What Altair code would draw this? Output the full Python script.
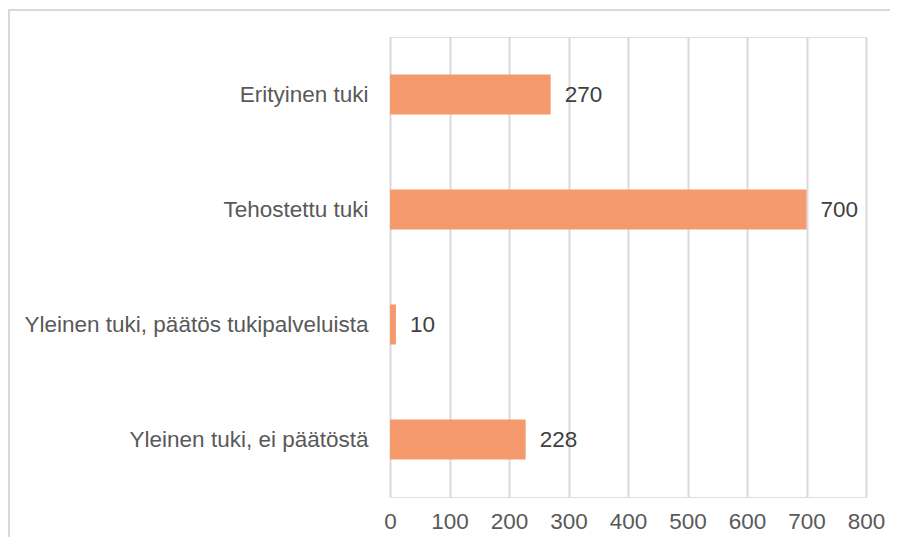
import altair as alt
import pandas as pd

categories = ["Erityinen tuki", "Tehostettu tuki", "Yleinen tuki, päätös tukipalveluista", "Yleinen tuki, ei päätöstä"]
values = [270, 700, 10, 228]
x_ticks = [0, 100, 200, 300, 400, 500, 600, 700, 800]

df = pd.DataFrame({"cat": categories, "val": values})

FONT = "Liberation Sans"
FS = 22.5

border = alt.Chart(df).mark_rect(
    fill=None, fillOpacity=0, stroke="#d9d9d9", strokeWidth=2
).encode(
    x=alt.value(-381), x2=alt.value(600), y=alt.value(-27), y2=alt.value(600)
)

base = alt.Chart(df).encode(
    y=alt.Y("cat:N", sort=categories, title=None,
            scale=alt.Scale(paddingInner=0.652, paddingOuter=0.326),
            axis=alt.Axis(labelFont=FONT, labelFontSize=FS, labelColor="#595959",
                          labelPadding=22, ticks=False, domain=False, grid=False,
                          labelLimit=500)),
    x=alt.X("val:Q", title=None,
            scale=alt.Scale(domain=[0, 800], nice=False),
            axis=alt.Axis(values=x_ticks, labelFont=FONT, labelFontSize=FS,
                          labelColor="#595959", labelPadding=13, ticks=False,
                          labelFlush=False,
                          domain=False, grid=True, gridColor="#d9d9d9",
                          gridWidth=2)),
)

bars = base.mark_bar(color="#F59A6C")
labels = base.mark_text(align="left", baseline="middle", dx=14, font=FONT,
                        fontSize=FS, color="#404040").encode(text="val:Q")

chart = alt.layer(border, bars, labels).properties(
    width=476, height=460,
    autosize=alt.AutoSizeParams(type="none"),
    padding={"left": 382, "top": 29, "right": 24, "bottom": 40},
).configure_view(stroke=None).configure(background="white")

chart.save("out.html", embed_options={"renderer": "svg", "actions": False})
